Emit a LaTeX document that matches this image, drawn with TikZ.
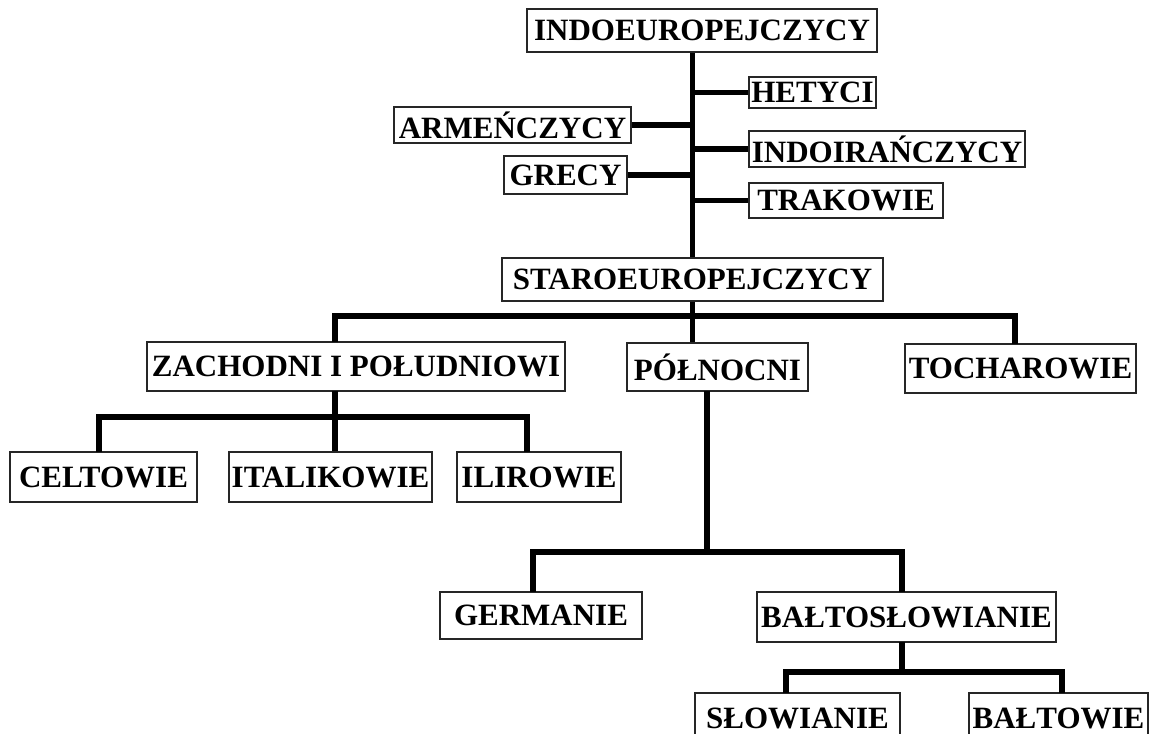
\documentclass[tikz,border=0pt]{standalone}
\usepackage{fontspec}
\setmainfont{Liberation Serif}

\begin{document}
\begin{tikzpicture}[x=0.5pt, y=-0.5pt,
    box/.style={rectangle, draw=black!85, line width=0.8pt, inner sep=0pt,
                font=\fontsize{15.5}{18}\selectfont\bfseries},
    link/.style={line width=2.6pt}]
  \useasboundingbox (0,0) rectangle (1149,733);

  \node (indo) [box, minimum width=175pt, minimum height=21.5pt] at (702, 30.5) {INDOEUROPEJCZYCY};
  \node (hetyci) [box, minimum width=63.5pt, minimum height=15.5pt] at (812.5, 92.5) {HETYCI};
  \node (armen) [box, minimum width=118.5pt, minimum height=18pt] at (512.5, 125) {ARMEŃCZYCY};
  \node (indoir) [box, minimum width=138pt, minimum height=18pt] at (887, 149) {INDOIRAŃCZYCY};
  \node (grecy) [box, minimum width=61.5pt, minimum height=19pt] at (565.5, 175) {GRECY};
  \node (trak) [box, minimum width=97pt, minimum height=17.5pt] at (846, 200.5) {TRAKOWIE};
  \node (staro) [box, minimum width=190.5pt, minimum height=21.5pt] at (692.5, 279.5) {STAROEUROPEJCZYCY};

  \node (zach) [box, minimum width=209pt, minimum height=24.5pt] at (356, 366.5) {ZACHODNI I POŁUDNIOWI};
  \node (poln) [box, minimum width=90.5pt, minimum height=24pt] at (717.5, 367) {PÓŁNOCNI};
  \node (toch) [box, minimum width=115.5pt, minimum height=24.5pt] at (1020.5, 368.5) {TOCHAROWIE};

  \node (celt) [box, minimum width=93.5pt, minimum height=25pt] at (103.5, 477) {CELTOWIE};
  \node (ital) [box, minimum width=101.5pt, minimum height=25pt] at (330.5, 477) {ITALIKOWIE};
  \node (ilir) [box, minimum width=82pt, minimum height=25pt] at (539, 477) {ILIROWIE};

  \node (germ) [box, minimum width=101pt, minimum height=23.5pt] at (541, 615.5) {GERMANIE};
  \node (balto) [box, minimum width=149.5pt, minimum height=25pt] at (906.5, 617) {BAŁTOSŁOWIANIE};

  \node (slow) [box, minimum width=102.5pt, minimum height=25pt] at (797.5, 718) {SŁOWIANIE};
  \node (baltow) [box, minimum width=89.5pt, minimum height=25pt] at (1058.5, 718) {BAŁTOWIE};

  % where the lines meet the boxes
  \coordinate (fork-staro) at (692.5, 316);
  \coordinate (zach-in) at (335, 342);
  \coordinate (toch-in) at (1015, 344);
  \coordinate (zach-out) at (335, 391);
  \coordinate (fork-zach) at (335, 417);
  \coordinate (celt-in) at (99, 452);
  \coordinate (ilir-in) at (527, 452);
  \coordinate (poln-out) at (707, 391);
  \coordinate (fork-poln) at (707, 552);
  \coordinate (germ-in) at (533, 592);
  \coordinate (balto-in) at (902, 592);
  \coordinate (balto-out) at (902, 642);
  \coordinate (fork-balto) at (902, 672);
  \coordinate (slow-in) at (786, 693);
  \coordinate (baltow-in) at (1062, 693);

  \draw[link] (staro.north |- indo.south) -- (staro.north);
  \draw[link] (hetyci.west) -- (hetyci.west -| staro.north);
  \draw[link] (armen.east) -- (armen.east -| staro.north);
  \draw[link] (indoir.west) -- (indoir.west -| staro.north);
  \draw[link] (grecy.east) -- (grecy.east -| staro.north);
  \draw[link] (trak.west) -- (trak.west -| staro.north);

  \draw[link] (staro.south) -- (staro.south |- poln.north);
  \draw[link] (zach-in) |- (fork-staro) -| (toch-in);

  \draw[link] (zach-out) -- (zach-out |- ital.north);
  \draw[link] (celt-in) |- (fork-zach) -| (ilir-in);

  \draw[link] (poln-out) -- (fork-poln);
  \draw[link] (germ-in) |- (fork-poln) -| (balto-in);

  \draw[link] (balto-out) -- (fork-balto);
  \draw[link] (slow-in) |- (fork-balto) -| (baltow-in);
\end{tikzpicture}
\end{document}
